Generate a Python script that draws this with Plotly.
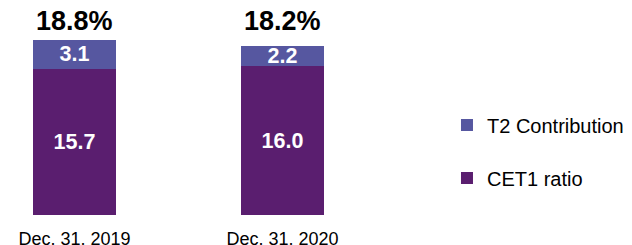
import plotly.graph_objects as go

categories = ["Dec. 31, 2019", "Dec. 31, 2020"]
cet1_ratio = [15.7, 16.0]
t2_contribution = [3.1, 2.2]
series_names = ["CET1 ratio", "T2 Contribution"]

totals = [round(a + b, 1) for a, b in zip(cet1_ratio, t2_contribution)]

FONT = "Liberation Sans, Arial, sans-serif"
C_CET1 = "#5A1E6F"
C_T2 = "#5657A0"

fig = go.Figure()
for name, vals, col, grp, rank in [
    (series_names[0], cet1_ratio, C_CET1, "g1", 2),
    (series_names[1], t2_contribution, C_T2, "g2", 1),
]:
    fig.add_trace(go.Bar(
        x=categories, y=vals, name=name, legendgroup=grp, legendrank=rank,
        marker=dict(color=col, line=dict(width=0)),
        width=0.4,
        text=[f"{v:.1f}" for v in vals],
        textposition="inside", insidetextanchor="middle",
        constraintext="none",
        textfont=dict(family=FONT, size=21.5, color="white", weight="bold"),
        hoverinfo="skip",
    ))

for c, t in zip(categories, totals):
    fig.add_annotation(
        x=c, y=0.935, xref="x", yref="paper", text=f"{t:.1f}%",
        showarrow=False, yanchor="middle",
        font=dict(family=FONT, size=27, color="black", weight="bold"),
    )

fig.update_layout(
    width=632, height=245,
    margin=dict(l=0, r=0, t=0, b=38),
    barmode="stack",
    plot_bgcolor="white", paper_bgcolor="white",
    showlegend=True,
    legend=dict(
        x=0.6946, xanchor="left", y=0.307, yanchor="middle",
        traceorder="grouped", tracegroupgap=24,
        font=dict(family=FONT, size=20, color="black"),
        bgcolor="rgba(0,0,0,0)",
    ),
    xaxis=dict(
        domain=[0, 0.7], type="category",
        range=[-0.3197, 1.807],
        showgrid=False, zeroline=False, showline=False,
        ticks="", ticklabelstandoff=11,
        tickfont=dict(family=FONT, size=18, color="black"),
    ),
    yaxis=dict(
        range=[0, 22.24], visible=False, showgrid=False, zeroline=False,
    ),
    font=dict(family=FONT),
)

fig.write_html("out.html")
